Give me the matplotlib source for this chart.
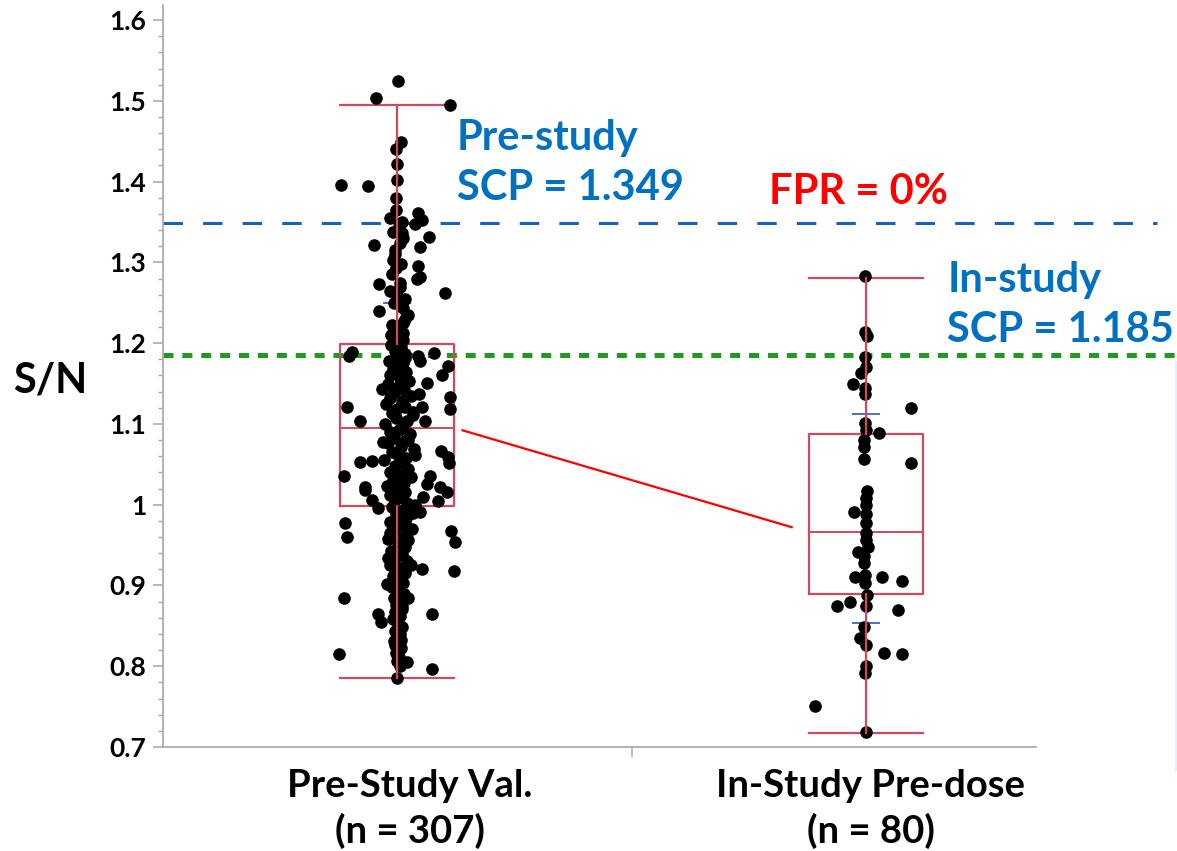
import matplotlib
matplotlib.use("Agg")
import matplotlib.pyplot as plt
from matplotlib.ticker import MultipleLocator

plt.rcParams['font.family'] = ['Lato', 'DejaVu Sans']
plt.rcParams['font.weight'] = 'bold'
plt.rcParams['lines.scale_dashes'] = False

# groups
cat_labels = ["Pre-Study Val.\n(n = 307)", "In-Study Pre-dose\n(n = 80)"]

# box statistics: (lower whisker, Q1, median, Q3, upper whisker)
box_stats = [
    [0.785, 0.998, 1.095, 1.199, 1.495],
    [0.717, 0.889, 0.966, 1.088, 1.281],
]
# short blue marks on each group
blue_marks = [[0.953, 1.250], [0.854, 1.112]]

pre_scp = 1.349
in_scp = 1.185

# group 1 points: x jitter (category units) and S/N value
g1_dx = [0.003, -0.045, 0.112, 0.009, -0.002, -0.001, -0.001, -0.120, -0.062, -0.002,
         -0.002, -0.016, 0.011, 0.044, 0.053, 0.038, 0.069, 0.010, 0.006, -0.049,
         0.049, -0.004, -0.008, 0.045, -0.002, 0.049, 0.043, 0.102, -0.038, -0.016,
         0.006, -0.038, 0.013, 0.024, -0.011, 0.013, 0.012, 0.013,
         -0.097, -0.102, 0.017, 0.045, 0.050, 0.079, 0.109, 0.095, 0.063, -0.031,
         0.047, 0.113, -0.107, 0.053, 0.035, 0.113, -0.079, 0.060, -0.029, 0.024,
         0.038, -0.080, -0.053, 0.094, 0.109, 0.111, -0.114, 0.070, 0.063, -0.068,
         0.092,
         -0.068, -0.054, -0.040, -0.015, 0.056, 0.088, 0.106, 0.038, 0.049, 0.035,
         -0.111, 0.017, -0.107, 0.031, 0.115, 0.124, 0.024, -0.015, -0.019, 0.030,
         0.053, 0.122, -0.022, -0.114, 0.024, 0.010, -0.041, -0.034, 0.074, -0.001,
         0.008, -0.004, -0.123, 0.021, 0.074, -0.001,
         0.005, -0.008, 0.012, -0.004, 0.008, -0.010, 0.006, 0.000, -0.006, 0.010,
         0.014, -0.003, 0.008, -0.012, 0.020, 0.018]
g1_y = [1.524, 1.504, 1.495, 1.449, 1.440, 1.422, 1.402, 1.396, 1.394, 1.380,
        1.365, 1.355, 1.350, 1.361, 1.353, 1.348, 1.331, 1.336, 1.324, 1.321,
        1.319, 1.315, 1.303, 1.295, 1.293, 1.282, 1.280, 1.262, 1.273, 1.264,
        1.270, 1.240, 1.243, 1.235, 1.222, 1.225, 1.212, 1.204,
        1.189, 1.184, 1.181, 1.184, 1.178, 1.188, 1.172, 1.161, 1.151, 1.143,
        1.137, 1.133, 1.121, 1.121, 1.115, 1.118, 1.104, 1.104, 1.077, 1.080,
        1.062, 1.053, 1.054, 1.066, 1.059, 1.052, 1.035, 1.035, 1.026, 1.022,
        1.022,
        1.018, 1.006, 0.996, 1.012, 1.010, 1.004, 1.016, 1.000, 0.991, 0.990,
        0.977, 0.980, 0.960, 0.970, 0.967, 0.954, 0.956, 0.965, 0.934, 0.925,
        0.920, 0.918, 0.902, 0.885, 0.884, 0.874, 0.865, 0.855, 0.865, 0.841,
        0.833, 0.826, 0.815, 0.805, 0.796, 0.786,
        1.345, 1.338, 1.330, 1.310, 1.298, 1.285, 1.275, 1.258, 1.250, 1.245,
        1.228, 1.218, 1.205, 1.210, 1.232, 1.255]

# dense middle column of group 1
col_dx = [-0.012, 0.008, -0.004, 0.016, 0.000, -0.018, 0.012, 0.004, -0.008, 0.020,
          -0.014, 0.006, 0.026, -0.020, 0.002, 0.014, -0.006, 0.030, -0.016, 0.010,
          -0.024, 0.018, 0.000, -0.010, 0.034, -0.002, 0.022, -0.026, 0.012, 0.004,
          -0.014, 0.028, -0.006, 0.016, -0.020, 0.008, 0.036, -0.010, 0.002, 0.020,
          -0.028, 0.012, -0.004, 0.024, -0.016, 0.006, 0.030, -0.008, 0.014, -0.022,
          0.002, 0.018, -0.012, 0.008, -0.004, 0.022,
          -0.010, 0.012, -0.002, 0.020, -0.016, 0.006, 0.026, -0.008, 0.014, -0.020,
          0.002, 0.018, -0.012, 0.010, -0.004, 0.022, -0.014, 0.006, 0.016, -0.008,
          0.000, 0.012, -0.010, 0.004, 0.014, -0.006, 0.008, -0.002, 0.010, -0.004,
          0.006, -0.008, 0.002, 0.010, -0.004, 0.006, 0.000, -0.006, 0.004, 0.008,
          -0.002, 0.004, 0.000, 0.006]
col_y = [1.198, 1.195, 1.190, 1.186, 1.182, 1.178, 1.175, 1.171, 1.168, 1.164,
         1.160, 1.157, 1.153, 1.150, 1.146, 1.142, 1.139, 1.135, 1.132, 1.128,
         1.125, 1.121, 1.118, 1.114, 1.111, 1.107, 1.104, 1.100, 1.097, 1.093,
         1.090, 1.087, 1.083, 1.079, 1.076, 1.072, 1.069, 1.065, 1.062, 1.058,
         1.055, 1.051, 1.048, 1.044, 1.041, 1.037, 1.034, 1.030, 1.027, 1.023,
         1.020, 1.016, 1.013, 1.009, 1.006, 1.002,
         0.997, 0.993, 0.988, 0.984, 0.979, 0.975, 0.970, 0.966, 0.961, 0.957,
         0.952, 0.948, 0.943, 0.939, 0.934, 0.930, 0.925, 0.921, 0.916, 0.912,
         0.907, 0.903, 0.898, 0.894, 0.889, 0.885, 0.880, 0.876, 0.871, 0.867,
         0.862, 0.858, 0.853, 0.849, 0.844, 0.840, 0.835, 0.831, 0.826, 0.822,
         0.817, 0.812, 0.806, 0.800]

# group 2 points
g2_dx = [-0.002, -0.002, 0.002, -0.002, 0.000, -0.011, -0.028, -0.002, -0.002, 0.097,
         -0.002, 0.000, 0.028, -0.004, -0.004, -0.005, 0.096, 0.003, -0.001, 0.000,
         -0.025, -0.001, 0.000, 0.000, 0.000, 0.005, -0.018, -0.004, -0.004, -0.023,
         -0.002, -0.002, 0.034, 0.076, 0.003, -0.061, -0.034, -0.001, 0.069, -0.005,
         -0.013, 0.000, 0.039, 0.076, 0.000, -0.002, -0.109, -0.001]
g2_y = [1.283, 1.214, 1.209, 1.183, 1.171, 1.163, 1.150, 1.144, 1.137, 1.120,
        1.101, 1.092, 1.089, 1.080, 1.072, 1.056, 1.052, 1.017, 1.008, 1.000,
        0.991, 0.989, 0.977, 0.965, 0.956, 0.948, 0.942, 0.936, 0.928, 0.910,
        0.913, 0.903, 0.911, 0.905, 0.888, 0.875, 0.880, 0.874, 0.870, 0.849,
        0.835, 0.826, 0.817, 0.815, 0.800, 0.792, 0.751, 0.718]

box_color = '#cf4a5c'
blue_txt = '#0070c0'
fig = plt.figure(figsize=(11.77, 8.51), dpi=100)
ax = fig.add_axes([0.1385, 0.1222, 0.7961, 0.8719])

ax.set_xlim(-0.499, 1.499)
ax.set_ylim(0.7, 1.6186)

# boxes
half = 0.1225
for i, (lo, q1, med, q3, hi) in enumerate(box_stats):
    ax.plot([i - half, i + half, i + half, i - half, i - half], [q1, q1, q3, q3, q1],
            color=box_color, lw=1.6, zorder=2)
    ax.plot([i - half, i + half], [med, med], color=box_color, lw=1.4, zorder=2)
    ax.plot([i, i], [hi, q3], color=box_color, lw=1.6, zorder=4)
    ax.plot([i, i], [q1, lo], color=box_color, lw=1.6, zorder=4)
    ax.plot([i - half, i + half], [hi, hi], color=box_color, lw=1.6, zorder=2)
    ax.plot([i - half, i + half], [lo, lo], color=box_color, lw=1.6, zorder=2)
    for b in blue_marks[i]:
        ax.plot([i - 0.028, i + 0.028], [b, b], color='#4472c4', lw=1.4, zorder=2)

# line joining the medians, between the boxes
m1 = box_stats[0][2]
m2 = box_stats[1][2]
slope = (m2 - m1) / (1 - 2 * half)
x_a, x_b = half + 0.017, 1 - half - 0.036
ax.plot([x_a, x_b], [m1 + slope * (x_a - half), m1 + slope * (x_b - half)],
        color='#ff0000', lw=1.6, zorder=2)

# points
ax.scatter([0 + d for d in col_dx], col_y, s=82, color='black', zorder=3, linewidths=0)
ax.scatter([0 + d for d in g1_dx], g1_y, s=82, color='black', zorder=3, linewidths=0)
ax.scatter([1 + d for d in g2_dx], g2_y, s=82, color='black', zorder=3, linewidths=0)

# cut points
ax.plot([-0.499, 1.62], [pre_scp, pre_scp], color='#1a5fc0', lw=2.2,
        dashes=(14, 14.5), clip_on=False, zorder=1)
ax.plot([-0.499, 1.67], [in_scp, in_scp], color='#1e9a1e', lw=3.6,
        dashes=(7.2, 6.4), clip_on=False, zorder=1)

# annotations, one line at a time (baseline positions)
ax.text(0.128, 1.439, "Pre-study", color=blue_txt, fontsize=30, fontweight='bold',
        ha='left', va='baseline')
ax.text(0.128, 1.377, "SCP = " + str(pre_scp), color=blue_txt, fontsize=30,
        fontweight='bold', ha='left', va='baseline')
ax.text(0.983, 1.372, "FPR = 0%", color='#ff0000', fontsize=30,
        fontweight='bold', ha='center', va='baseline')
ax.text(1.173, 1.263, "In-study", color=blue_txt, fontsize=30, fontweight='bold',
        ha='left', va='baseline', clip_on=False)
ax.text(1.173, 1.201, "SCP = " + str(in_scp), color=blue_txt, fontsize=30,
        fontweight='bold', ha='left', va='baseline', clip_on=False)

# axes styling
for s in ['top', 'right']:
    ax.spines[s].set_visible(False)
for s in ['left', 'bottom']:
    ax.spines[s].set_color('#a6a6a6')
    ax.spines[s].set_linewidth(1.2)
ax.spines['bottom'].set_bounds(-0.499, 1.362)

ax.yaxis.set_major_locator(MultipleLocator(0.1))
ax.yaxis.set_minor_locator(MultipleLocator(0.02))
ax.set_yticks([0.7, 0.8, 0.9, 1.0, 1.1, 1.2, 1.3, 1.4, 1.5, 1.6])
ax.set_yticklabels(['0.7', '0.8', '0.9', '1', '1.1', '1.2', '1.3', '1.4', '1.5', '1.6'])
ax.tick_params(axis='y', which='major', length=7, width=1.1, color='#a6a6a6',
               labelsize=19, pad=5)
ax.tick_params(axis='y', which='minor', length=3.6, width=1.0, color='#a6a6a6')
for lab in ax.get_yticklabels():
    lab.set_fontweight('bold')

ax.set_xticks([0.5])
ax.set_xticklabels([''])
ax.tick_params(axis='x', which='major', length=7, width=1.1, color='#a6a6a6')

# category labels under the axis
label_x = [0.028, 1.01]
for xc, lab in zip(label_x, cat_labels):
    top, bottom = lab.split('\n')
    ax.text(xc, 0.638, top, ha='center', va='baseline', fontsize=27.5,
            fontweight='bold', clip_on=False)
    ax.text(xc, 0.581, bottom, ha='center', va='baseline', fontsize=27.5,
            fontweight='bold', clip_on=False)

fig.text(0.011, 0.553, "S/N", fontsize=30, fontweight='bold', ha='left', va='center')

# faint edge line at the right of the slide
fig.add_artist(plt.Line2D([0.9992, 0.9992], [0.095, 0.575], color='#dff3fa', lw=1.5))

fig.savefig("out.png", dpi=100)
